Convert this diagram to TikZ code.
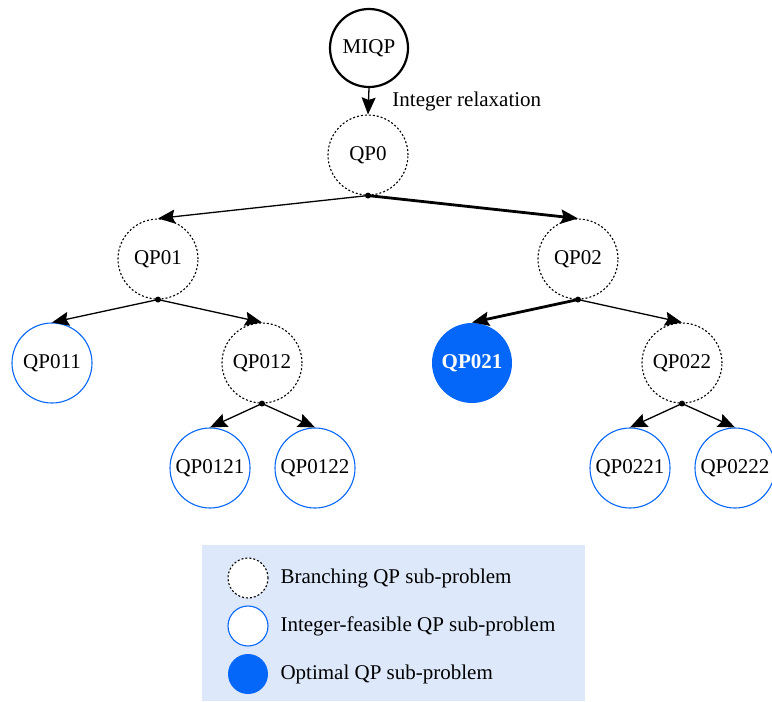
\documentclass[tikz,border=0pt]{standalone}
\usepackage{fontspec}
\setmainfont{Liberation Serif}
\usetikzlibrary{arrows.meta}
\definecolor{qblue}{RGB}{5,102,250}
\definecolor{legbg}{RGB}{221,233,251}
\begin{document}
\begin{tikzpicture}[x=1pt,y=-1pt,
  every node/.style={font=\fontsize{21}{24}\selectfont},
  qp/.style={circle,minimum size=80pt,inner sep=0pt,line width=1.1pt},
  branch/.style={qp,draw=black,dash pattern=on 2pt off 2pt},
  feas/.style={qp,draw=qblue},
  opt/.style={qp,fill=qblue,text=white,font=\fontsize{21}{24}\selectfont\bfseries},
  root/.style={qp,draw=black,line width=2.2pt,minimum size=78pt},
  dotn/.style={circle,fill=black,inner sep=0pt,minimum size=6pt},
  arrowtip/.style={-{Stealth[length=17pt,width=14pt,inset=2.5pt]}},
  arr/.style={arrowtip,line width=1.3pt},
  boldarr/.style={arrowtip,line width=2.8pt},
  legtext/.style={anchor=west,font=\fontsize{21}{24}\selectfont}
]
\useasboundingbox (0,0) rectangle (772,702);
% legend background
\fill[legbg] (202,545) rectangle (585,701);

\node[root] (miqp) at (369,48) {MIQP};
\node[branch] (qp0) at (368,155) {QP0};
\node[branch] (qp01) at (158,259) {QP01};
\node[branch] (qp02) at (578,259) {QP02};
\node[feas] (qp011) at (52,363) {QP011};
\node[branch] (qp012) at (262,363) {QP012};
\node[opt] (qp021) at (472,363) {QP021};
\node[branch] (qp022) at (682,363) {QP022};
\node[feas] (qp0121) at (210,468) {QP0121};
\node[feas] (qp0122) at (315,468) {QP0122};
\node[feas] (qp0221) at (630,468) {QP0221};
\node[feas] (qp0222) at (735,468) {QP0222};

\node[dotn] (d0) at (qp0.south) {};
\node[dotn] (d01) at (qp01.south) {};
\node[dotn] (d02) at (qp02.south) {};
\node[dotn] (d012) at (qp012.south) {};
\node[dotn] (d022) at (qp022.south) {};

\draw[arr] (miqp.south) -- (qp0.north) node[pos=0.5,anchor=west,xshift=20pt,font=\fontsize{21}{24}\selectfont] {Integer relaxation};

\draw[arr] (d0.center) -- (qp01.north);
\draw[boldarr] (d0.center) -- (qp02.north);
\draw[arr] (d01.center) -- (qp011.north);
\draw[arr] (d01.center) -- (qp012.north);
\draw[boldarr] (d02.center) -- (qp021.north);
\draw[arr] (d02.center) -- (qp022.north);
\draw[arr] (d012.center) -- (qp0121.north);
\draw[arr] (d012.center) -- (qp0122.north);
\draw[arr] (d022.center) -- (qp0221.north);
\draw[arr] (d022.center) -- (qp0222.north);

% legend
\node[branch,fill=white,minimum size=40pt] (lb) at (248,578) {};
\node[feas,fill=white,minimum size=40pt] (lf) at (248,626) {};
\node[opt,minimum size=40pt] (lo) at (248,674) {};
\node[legtext] (tb) at (277,578) {Branching QP sub-problem};
\node[legtext] (tf) at (277,626) {Integer-feasible QP sub-problem};
\node[legtext] (to) at (277,674) {Optimal QP sub-problem};
\end{tikzpicture}
\end{document}
